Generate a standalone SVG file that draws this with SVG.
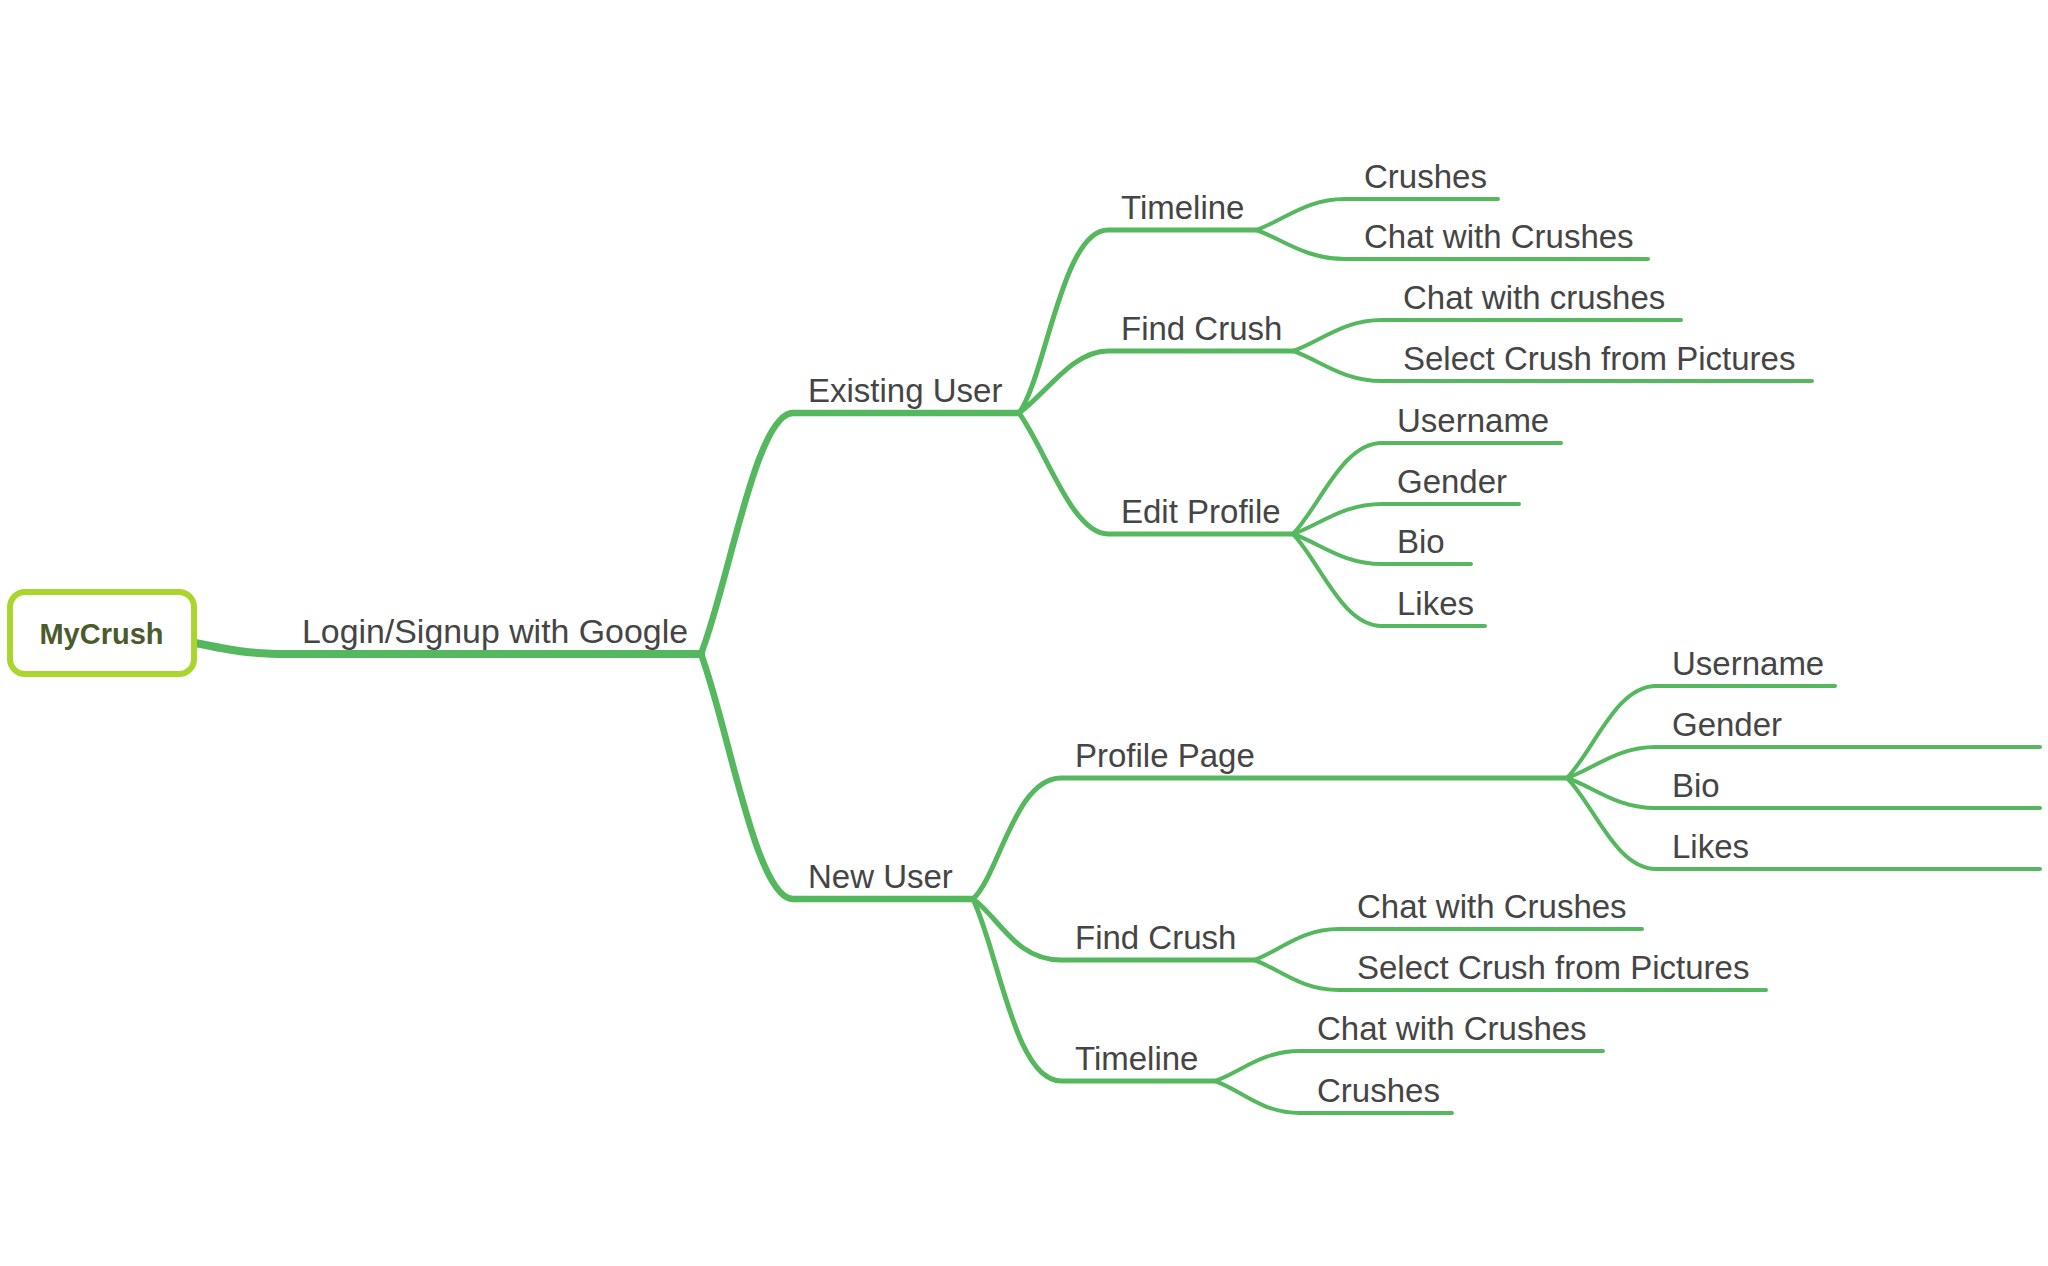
<svg xmlns="http://www.w3.org/2000/svg" width="2048" height="1266" viewBox="0 0 2048 1266">
<style>
  .c{fill:none;stroke:#55b85e;stroke-linecap:round;stroke-linejoin:round}
  .w0{stroke-width:8}
  .w1{stroke-width:6.5}
  .w2{stroke-width:5}
  .w3{stroke-width:4}
  .t{font-family:"Liberation Sans",Arial,sans-serif;font-size:33px;fill:#454545}
  .root{font-family:"Liberation Sans",Arial,sans-serif;font-size:29px;font-weight:bold;fill:#4b5b2b}
</style>
<rect width="2048" height="1266" fill="#ffffff"/>
<g id="connectors">
  <!-- root to Login -->
  <path class="c w0" d="M195 643 C235 651 250 654 290 654 L701 654"/>
  <!-- Login -> Existing User / New User -->
  <path class="c w1" d="M701 654 C729 582 756 413 793 413 L1019 413"/>
  <path class="c w1" d="M701 654 C729 729 756 899 793 899 L973 899"/>
  <!-- Existing User children -->
  <path class="c w2" d="M1019 413 C1046 376 1062 230 1108 230 L1256 230"/>
  <path class="c w2" d="M1019 413 C1046 394 1072 351 1108 351 L1293 351"/>
  <path class="c w2" d="M1019 413 C1046 450 1072 534 1108 534 L1293 534"/>
  <!-- Timeline (existing) children -->
  <path class="c w3" d="M1256 230 C1283 221 1305 199 1345 199 L1498 199"/>
  <path class="c w3" d="M1256 230 C1283 239 1305 259 1345 259 L1648 259"/>
  <!-- Find Crush (existing) children -->
  <path class="c w3" d="M1293 351 C1320 342 1342 320 1382 320 L1681 320"/>
  <path class="c w3" d="M1293 351 C1320 360 1342 381 1382 381 L1812 381"/>
  <!-- Edit Profile children -->
  <path class="c w3" d="M1293 534 C1320 506 1342 443 1382 443 L1561 443"/>
  <path class="c w3" d="M1293 534 C1320 525 1342 504 1382 504 L1519 504"/>
  <path class="c w3" d="M1293 534 C1320 543 1342 564 1382 564 L1471 564"/>
  <path class="c w3" d="M1293 534 C1320 562 1342 626 1382 626 L1485 626"/>
  <!-- New User children -->
  <path class="c w2" d="M973 899 C999 875 1015 778 1061 778 L1567 778"/>
  <path class="c w2" d="M973 899 C999 917 1015 960 1061 960 L1254 960"/>
  <path class="c w2" d="M973 899 C999 954 1015 1081 1061 1081 L1215 1081"/>
  <!-- Profile Page children -->
  <path class="c w3" d="M1567 778 C1594 750 1616 686 1656 686 L1835 686"/>
  <path class="c w3" d="M1567 778 C1594 769 1616 747 1656 747 L2040 747"/>
  <path class="c w3" d="M1567 778 C1594 787 1616 808 1656 808 L2040 808"/>
  <path class="c w3" d="M1567 778 C1594 805 1616 869 1656 869 L2040 869"/>
  <!-- Find Crush (new) children -->
  <path class="c w3" d="M1254 960 C1280 951 1300 929 1339 929 L1642 929"/>
  <path class="c w3" d="M1254 960 C1280 969 1300 990 1339 990 L1766 990"/>
  <!-- Timeline (new) children -->
  <path class="c w3" d="M1215 1081 C1241 1072 1261 1051 1300 1051 L1603 1051"/>
  <path class="c w3" d="M1215 1081 C1241 1090 1261 1113 1300 1113 L1452 1113"/>
</g>
<g id="node-mycrush">
  <rect x="10" y="592" width="184" height="82" rx="15" ry="15" fill="#ffffff" stroke="#a9d52c" stroke-width="6"/>
  <text class="root" x="101.5" y="644" text-anchor="middle">MyCrush</text>
</g>
<g id="node-login"><text class="t" x="302" y="643" textLength="386" lengthAdjust="spacingAndGlyphs">Login/Signup with Google</text></g>
<g id="node-existing-user"><text class="t" x="808" y="402">Existing User</text></g>
<g id="node-ex-timeline"><text class="t" x="1121" y="219">Timeline</text></g>
<g id="node-ex-timeline-crushes"><text class="t" x="1364" y="188">Crushes</text></g>
<g id="node-ex-timeline-chat"><text class="t" x="1364" y="248">Chat with Crushes</text></g>
<g id="node-ex-findcrush"><text class="t" x="1121" y="340">Find Crush</text></g>
<g id="node-ex-findcrush-chat"><text class="t" x="1403" y="309">Chat with crushes</text></g>
<g id="node-ex-findcrush-select"><text class="t" x="1403" y="370">Select Crush from Pictures</text></g>
<g id="node-ex-editprofile"><text class="t" x="1121" y="523">Edit Profile</text></g>
<g id="node-ex-username"><text class="t" x="1397" y="432">Username</text></g>
<g id="node-ex-gender"><text class="t" x="1397" y="493">Gender</text></g>
<g id="node-ex-bio"><text class="t" x="1397" y="553">Bio</text></g>
<g id="node-ex-likes"><text class="t" x="1397" y="615">Likes</text></g>
<g id="node-new-user"><text class="t" x="808" y="888">New User</text></g>
<g id="node-nu-profilepage"><text class="t" x="1075" y="767">Profile Page</text></g>
<g id="node-nu-username"><text class="t" x="1672" y="675">Username</text></g>
<g id="node-nu-gender"><text class="t" x="1672" y="736">Gender</text></g>
<g id="node-nu-bio"><text class="t" x="1672" y="797">Bio</text></g>
<g id="node-nu-likes"><text class="t" x="1672" y="858">Likes</text></g>
<g id="node-nu-findcrush"><text class="t" x="1075" y="949">Find Crush</text></g>
<g id="node-nu-findcrush-chat"><text class="t" x="1357" y="918">Chat with Crushes</text></g>
<g id="node-nu-findcrush-select"><text class="t" x="1357" y="979">Select Crush from Pictures</text></g>
<g id="node-nu-timeline"><text class="t" x="1075" y="1070">Timeline</text></g>
<g id="node-nu-timeline-chat"><text class="t" x="1317" y="1040">Chat with Crushes</text></g>
<g id="node-nu-timeline-crushes"><text class="t" x="1317" y="1102">Crushes</text></g>
</svg>
